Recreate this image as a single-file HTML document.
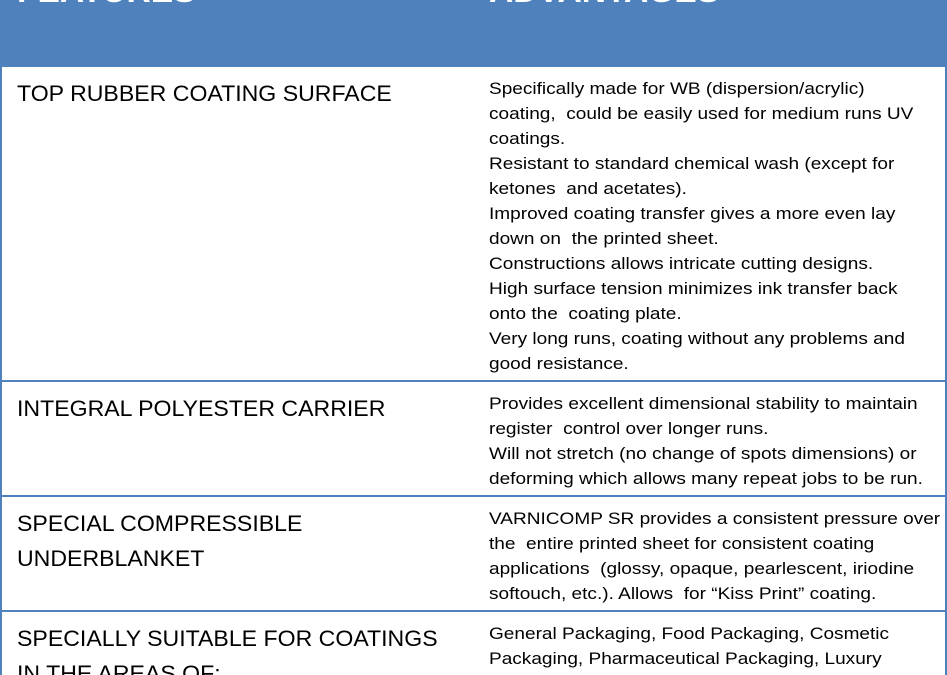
<!DOCTYPE html>
<html><head><meta charset="utf-8"><style>
html,body{margin:0;width:947px;height:675px;overflow:hidden}
body{background:#fff;position:relative;font-family:"Liberation Sans",Arial,sans-serif;color:#000}
.hd{position:absolute;left:0;top:0;width:947px;height:67px;background:#4f81bd}
.ht{position:absolute;top:-27px;color:#fff;font-weight:bold;font-size:32px;white-space:nowrap;transform:scaleX(1.05);transform-origin:left}
.l{position:absolute;left:17px;font-size:22px;line-height:35px;white-space:nowrap;transform:scaleX(1.05);transform-origin:left top}
.r{position:absolute;left:489px;font-size:17px;line-height:25px;white-space:nowrap;transform:scaleX(1.12);transform-origin:left top}
.h{position:absolute;left:0;width:947px;height:2px;background:#4f81bd}
.v{position:absolute;top:66px;width:2px;height:609px;background:#4f81bd}
</style></head><body>
<div class="hd"></div>
<div class="ht" style="left:17px">FEATURES</div>
<div class="ht" style="left:489px">ADVANTAGES</div>
<div class="v" style="left:0"></div>
<div class="v" style="left:945px"></div>
<div class="h" style="top:380px"></div>
<div class="h" style="top:495px"></div>
<div class="h" style="top:610px"></div>

<div class="l" style="top:76px">TOP RUBBER COATING SURFACE</div>
<div class="r" style="top:76px">Specifically made for WB (dispersion/acrylic)<br>coating,&nbsp; could be easily used for medium runs UV<br>coatings.<br>Resistant to standard chemical wash (except for<br>ketones&nbsp; and acetates).<br>Improved coating transfer gives a more even lay<br>down on&nbsp; the printed sheet.<br>Constructions allows intricate cutting designs.<br>High surface tension minimizes ink transfer back<br>onto the&nbsp; coating plate.<br>Very long runs, coating without any problems and<br>good resistance.</div>

<div class="l" style="top:391px">INTEGRAL POLYESTER CARRIER</div>
<div class="r" style="top:391px">Provides excellent dimensional stability to maintain<br>register&nbsp; control over longer runs.<br>Will not stretch (no change of spots dimensions) or<br>deforming which allows many repeat jobs to be run.</div>

<div class="l" style="top:506px">SPECIAL COMPRESSIBLE<br>UNDERBLANKET</div>
<div class="r" style="top:506px">VARNICOMP SR provides a consistent pressure over<br>the&nbsp; entire printed sheet for consistent coating<br>applications&nbsp; (glossy, opaque, pearlescent, iriodine<br>softouch, etc.). Allows&nbsp; for “Kiss Print” coating.</div>

<div class="l" style="top:621px">SPECIALLY SUITABLE FOR COATINGS<br>IN THE AREAS OF:</div>
<div class="r" style="top:621px">General Packaging, Food Packaging, Cosmetic<br>Packaging, Pharmaceutical Packaging, Luxury</div>
</body></html>
